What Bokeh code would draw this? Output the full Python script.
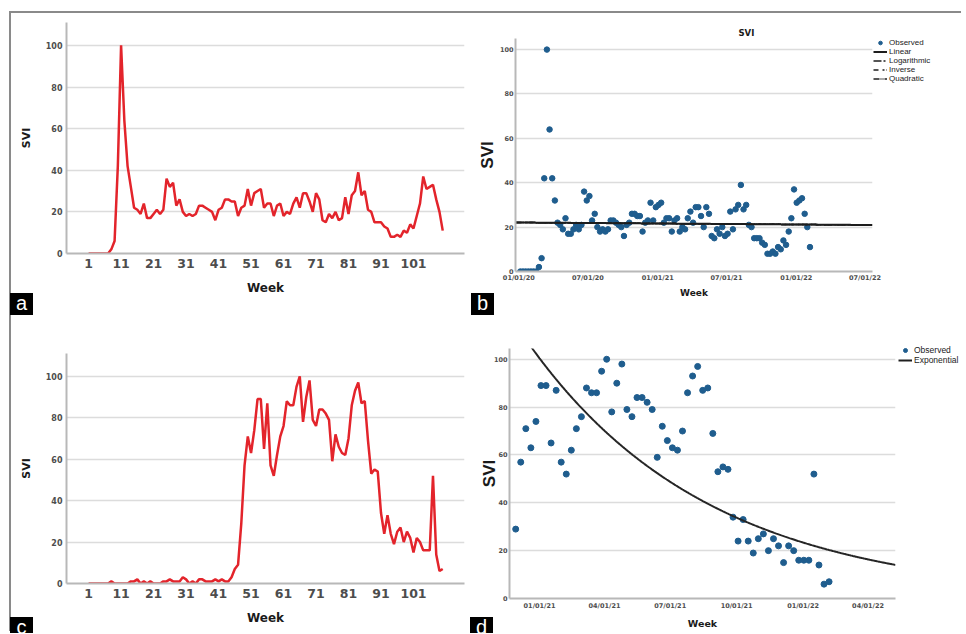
import datetime as dt
import numpy as np
import pandas as pd
from bokeh.plotting import figure
from bokeh.models import Range1d, FixedTicker, Legend, LegendItem, DatetimeTickFormatter, Div
from bokeh.embed import file_html
from bokeh.resources import INLINE

# ---------------- data ----------------
week_numbers = list(range(1, 111))
week_ticks = [1, 11, 21, 31, 41, 51, 61, 71, 81, 91, 101]
svi_ticks = [0, 20, 40, 60, 80, 100]

# series of panels a and b (weekly, first week 2020-01-05)
svi_series1 = [0, 0, 0, 0, 0, 0, 0, 2, 6, 42, 100, 64, 42, 32,
               22, 21, 19, 24, 17, 17, 19, 21, 19, 21,
               36, 32, 34, 23, 26, 20, 18, 19, 18, 19,
               23, 23, 22, 21, 20, 16, 21, 22, 26, 26,
               25, 25, 18, 22, 23, 31, 23, 29, 30, 31,
               22, 24, 24, 18, 23, 24, 18, 20, 19, 24,
               27, 22, 29, 29, 25, 20, 29, 26, 16, 15,
               19, 17, 20, 16, 17, 27, 19, 28, 30, 39,
               28, 30, 21, 20, 15, 15, 15, 13, 12, 8,
               8, 9, 8, 11, 10, 14, 12, 18, 24, 37,
               31, 32, 33, 26, 20, 11]
series1_first_week = "2020-01-05"

# series of panel c: weeks 1-47 ...
svi_series2_early = [0, 0, 0, 0, 0, 0, 0, 1, 0, 0, 0, 0, 0,
                     1, 1, 2, 0, 1, 0, 1, 0, 0, 0,
                     1, 1, 2, 1, 1, 1, 3, 2, 0, 1,
                     0, 2, 2, 1, 1, 1, 2, 1, 2, 1,
                     1, 3, 7, 9]
# ... and weeks 48-110 (also the observed points of panel d, first week 2020-11-29)
svi_series2_late = [29, 57, 71, 63, 74, 89, 89, 65, 87, 57,
                    52, 62, 71, 76, 88, 86, 86, 95, 100, 78,
                    90, 98, 79, 76, 84, 84, 82, 79, 59, 72,
                    66, 63, 62, 70, 86, 93, 97, 87, 88, 69,
                    53, 55, 54, 34, 24, 33, 24, 19, 25, 27,
                    20, 25, 22, 15, 22, 20, 16, 16, 16, 52,
                    14, 6, 7]
series2_late_first_week = "2020-11-29"

b_date_ticks = ["2020-01-01", "2020-07-01", "2021-01-01", "2021-07-01", "2022-01-01", "2022-07-01"]
d_date_ticks = ["2021-01-01", "2021-04-01", "2021-07-01", "2021-10-01", "2022-01-01", "2022-04-01"]
panel_letters = ["a", "b", "c", "d"]
b_legend_labels = ["Observed", "Linear", "Logarithmic", "Inverse", "Quadratic"]
d_legend_labels = ["Observed", "Exponential"]

# ---------------- style ----------------
FONT = "DejaVu Sans"
LFONT = "Liberation Sans"
RED = "#e3242b"
BLUE = "#1f5d8e"
FIT = "#1e1e1e"
GRID = "#dcdcdc"
AXIS = "#b8b8b8"
DASHES = ["solid", "8 2 2 2", "5 4 2 2", "6 1 1 1 1 1"]


def place(left, top):
    return {"position": "absolute", "left": f"{left}px", "top": f"{top}px"}


def style(p, xtick_size, ytick_size, xlab_size, ylab_size, xstand, ystand, xlab_stand, ylab_stand,
          ylab_font=FONT):
    p.outline_line_color = None
    p.background_fill_color = "white"
    p.border_fill_color = None
    p.xgrid.grid_line_color = None
    p.ygrid.grid_line_color = GRID
    p.ygrid.grid_line_width = 1.5
    p.yaxis.ticker = FixedTicker(ticks=svi_ticks)
    for ax in (p.xaxis[0], p.yaxis[0]):
        ax.axis_line_color = AXIS
        ax.axis_line_width = 2
        ax.major_tick_line_color = None
        ax.minor_tick_line_color = None
        ax.major_tick_out = 0
        ax.major_tick_in = 0
        ax.minor_tick_out = 0
        ax.minor_tick_in = 0
        ax.major_label_text_font = FONT
        ax.major_label_text_font_style = "bold"
        ax.major_label_text_color = "#4d4d4d"
        ax.axis_label_text_font = FONT
        ax.axis_label_text_font_style = "bold"
        ax.axis_label_text_color = "#1a1a1a"
    p.yaxis.axis_label_text_font = ylab_font
    p.xaxis.major_label_text_font_size = xtick_size
    p.yaxis.major_label_text_font_size = ytick_size
    p.xaxis.axis_label_text_font_size = xlab_size
    p.yaxis.axis_label_text_font_size = ylab_size
    p.xaxis.major_label_standoff = xstand
    p.yaxis.major_label_standoff = ystand
    p.xaxis.axis_label_standoff = xlab_stand
    p.yaxis.axis_label_standoff = ylab_stand
    p.xaxis.axis_label = "Week"
    p.yaxis.axis_label = "SVI"


def legend_figure(left, top, width, height, labels, dot_size, font_size, row_h, pad):
    """A small figure that only holds a legend, placed beside a panel (proxies hold NaN)."""
    lf = figure(width=width, height=height, x_range=Range1d(0, 1), y_range=Range1d(0, 1),
                output_backend="svg", toolbar_location=None, styles=place(left, top),
                x_axis_location=None, y_axis_location=None, min_border=0)
    lf.grid.grid_line_color = None
    lf.outline_line_color = None
    lf.background_fill_color = None
    lf.border_fill_color = None
    renderers = [lf.scatter(x=[np.nan], y=[np.nan], size=dot_size, color=BLUE)]
    for i in range(1, len(labels)):
        renderers.append(lf.line(x=[np.nan, np.nan], y=[np.nan, np.nan], color=FIT,
                                 line_width=2 if i == 1 else 1.6,
                                 line_dash=DASHES[(i - 1) % len(DASHES)]))
    lg = Legend(items=[LegendItem(label=lab, renderers=[r]) for lab, r in zip(labels, renderers)],
                location="top_left")
    lg.label_text_font = LFONT
    lg.label_text_font_size = font_size
    lg.label_text_color = "#222222"
    lg.glyph_width = 14
    lg.glyph_height = row_h
    lg.label_height = row_h
    lg.label_standoff = 2
    lg.spacing = 0
    lg.padding = pad
    lg.margin = 0
    lg.border_line_color = None
    lg.background_fill_alpha = 0
    lf.add_layout(lg)
    return lf


def date_formatter():
    f = "%m/%d/%y"
    return DatetimeTickFormatter(microseconds=f, milliseconds=f, seconds=f, minsec=f, minutes=f,
                                 hourmin=f, hours=f, days=f, months=f, years=f)


def ms(d):
    return pd.Timestamp(d).value / 1e6


def letter_box(text, left, top, height):
    st = place(left, top)
    st.update({"background-color": "black", "color": "white", "font-family": LFONT,
               "font-size": "20px", "line-height": "20px", "text-align": "center",
               "overflow": "hidden"})
    return Div(text=text, width=23, height=height, margin=0, styles=st)


# ---------------- panel a ----------------
pa = figure(width=459, height=312, x_range=Range1d(-5.8, 116.7), y_range=Range1d(0, 111),
            output_backend="svg", toolbar_location=None, styles=place(11, 13),
            min_border_left=55, min_border_right=6, min_border_top=9, min_border_bottom=72)
style(pa, "12.5px", "8px", "12px", "11px", 5, 4, 10, 10)
pa.xaxis.ticker = FixedTicker(ticks=week_ticks)
pa.line(week_numbers, svi_series1, color=RED, line_width=2.5)

# ---------------- panel b ----------------
dates1 = pd.date_range(series1_first_week, periods=len(svi_series1), freq="7D")
b_start = pd.Timestamp("2020-01-01") - pd.Timedelta(days=8.7)
b_end = pd.Timestamp("2022-07-01") + pd.Timedelta(days=19.7)
pb = figure(width=494, height=312, x_axis_type="datetime",
            x_range=Range1d(b_start, b_end), y_range=Range1d(0, 105),
            output_backend="svg", toolbar_location=None, styles=place(470, 13),
            min_border_left=45, min_border_right=92, min_border_top=25, min_border_bottom=54)
style(pb, "6.5px", "6.5px", "9px", "17px", 2, 2, 3, 0, ylab_font=LFONT)
pb.xaxis.ticker = FixedTicker(ticks=[ms(d) for d in b_date_ticks])
pb.xaxis.formatter = date_formatter()
pb.title.text = "SVI"
pb.title.align = "left"
pb.title.offset = 223
pb.title.text_font = FONT
pb.title.text_font_size = "8.5px"
pb.title.text_font_style = "bold"
pb.title.text_color = "#1a1a1a"
pb.title.standoff = 2

# curve fits computed from the observed values (SPSS-style date predictor)
epoch_offset = (dt.date(2020, 1, 1) - dt.date(1582, 10, 14)).days
t_obs = np.asarray((dates1 - pd.Timestamp("2020-01-01")).days, dtype=float)
grid_b = pd.date_range(b_start.ceil("D"), b_end.floor("D"), freq="D")
t_grid = np.asarray((grid_b - pd.Timestamp("2020-01-01")).days, dtype=float)
y_obs = np.asarray(svi_series1, dtype=float)
lin = np.polyfit(t_obs, y_obs, 1)
logc = np.polyfit(np.log(t_obs + epoch_offset), y_obs, 1)
invc = np.polyfit(1.0 / (t_obs + epoch_offset), y_obs, 1)
# with a date-valued predictor the squared term fails the tolerance test,
# so the quadratic model reduces to the linear one
quad = lin

pb.scatter(dates1, svi_series1, size=5.5, color=BLUE)
pb.line(grid_b, np.polyval(lin, t_grid), color=FIT, line_width=2)
pb.line(grid_b, np.polyval(logc, np.log(t_grid + epoch_offset)), color=FIT,
        line_width=1.5, line_dash=DASHES[1])
pb.line(grid_b, np.polyval(invc, 1.0 / (t_grid + epoch_offset)), color=FIT,
        line_width=1.5, line_dash=DASHES[2])
pb.line(grid_b, np.polyval(quad, t_grid), color=FIT, line_width=1.5, line_dash=DASHES[3])

leg_b = legend_figure(873, 38, 86, 50, b_legend_labels, 5.5, "8px", 9, 1)

# ---------------- panel c ----------------
svi_series2 = svi_series2_early + svi_series2_late
pc = figure(width=459, height=308, x_range=Range1d(-5.8, 116.7), y_range=Range1d(0, 111),
            output_backend="svg", toolbar_location=None, styles=place(11, 325),
            min_border_left=55, min_border_right=6, min_border_top=28, min_border_bottom=50)
style(pc, "12.5px", "8px", "12px", "11px", 5, 4, 10, 10)
pc.xaxis.ticker = FixedTicker(ticks=week_ticks)
pc.line(week_numbers, svi_series2, color=RED, line_width=2.5)

# ---------------- panel d ----------------
dates2 = pd.date_range(series2_late_first_week, periods=len(svi_series2_late), freq="7D")
d_start = pd.Timestamp("2021-01-01") - pd.Timedelta(days=41.6)
d_end = pd.Timestamp("2021-01-01") + pd.Timedelta(days=493)
pdd = figure(width=494, height=308, x_axis_type="datetime",
             x_range=Range1d(d_start, d_end), y_range=Range1d(0, 104.5),
             output_backend="svg", toolbar_location=None, styles=place(470, 325),
             min_border_left=39, min_border_right=69, min_border_top=23, min_border_bottom=35)
style(pdd, "6.5px", "6.5px", "9.5px", "17px", 3, 2, 5, -8, ylab_font=LFONT)
pdd.xaxis.ticker = FixedTicker(ticks=[ms(d) for d in d_date_ticks])
pdd.xaxis.formatter = date_formatter()

t2 = np.asarray((dates2 - pd.Timestamp("2021-01-01")).days, dtype=float)
expc = np.polyfit(t2, np.log(np.asarray(svi_series2_late, dtype=float)), 1)
grid_d = pd.date_range(d_start.ceil("D"), d_end.floor("D"), freq="D")
tg2 = np.asarray((grid_d - pd.Timestamp("2021-01-01")).days, dtype=float)

pdd.scatter(dates2, svi_series2_late, size=6, color=BLUE)
pdd.line(grid_d, np.exp(np.polyval(expc, tg2)), color="#262626", line_width=2)

leg_d = legend_figure(898, 345, 66, 24, d_legend_labels, 6, "8.5px", 10, 1)

# ---------------- frame lines and panel letters ----------------
frame_style = place(9, 11)
frame_style.update({"border-top": "2px solid #8a8a8a", "border-left": "2px solid #8a8a8a"})
frame = Div(text="", width=952, height=620, margin=0, styles=frame_style)

letters = [letter_box(panel_letters[0], 10, 293, 22),
           letter_box(panel_letters[1], 471, 293, 22),
           letter_box(panel_letters[2], 10, 617, 16),
           letter_box(panel_letters[3], 470, 617, 16)]

open("out.html", "w").write(file_html([frame, pa, pb, leg_b, pc, pdd, leg_d] + letters, INLINE))
